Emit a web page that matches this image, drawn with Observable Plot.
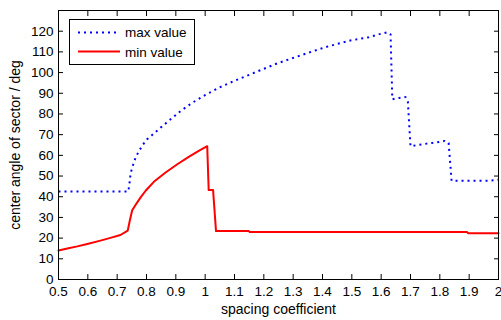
<!DOCTYPE html>
<html>
<head>
<meta charset="utf-8">
<script src="https://cdn.jsdelivr.net/npm/d3@7"></script>
<script src="https://cdn.jsdelivr.net/npm/@observablehq/plot@0.6"></script>
<style>
  body { margin: 0; background: #fff; }
  #wrap { position: relative; width: 501px; height: 320px; }
  #legend { position: absolute; left: 0; top: 0; pointer-events: none; }
</style>
</head>
<body>
<div id="wrap"></div>
<script>
// spacing coefficient (x) and center angle (deg)
const maxX = [0.5, 0.738, 0.742, 0.745, 0.749, 0.755, 0.763, 0.774, 0.787, 0.802, 0.819, 0.848, 0.882, 0.916, 0.956, 1.001, 1.047, 1.098, 1.160, 1.245, 1.325, 1.410, 1.495, 1.558, 1.598, 1.621, 1.632, 1.638, 1.661, 1.683, 1.691, 1.700, 1.720, 1.743, 1.774, 1.797, 1.816, 1.830, 1.840, 1.90, 1.96, 2.0];
const maxY = [42.5, 42.5, 46.4, 50.1, 52.9, 55.7, 59.0, 62.0, 65.0, 67.8, 69.8, 73.4, 77.4, 81.4, 85.4, 89.2, 92.7, 95.9, 99.5, 104.4, 108.3, 112.3, 115.5, 117.1, 118.7, 119.5, 118.5, 87.1, 87.7, 88.2, 85.9, 64.4, 64.9, 65.4, 66.0, 66.4, 67.0, 66.0, 47.7, 47.7, 47.7, 48.2];

const minX = [0.5, 0.53, 0.564, 0.598, 0.643, 0.677, 0.711, 0.736, 0.743, 0.751, 0.763, 0.780, 0.797, 0.825, 0.865, 0.905, 0.944, 0.978, 1.007, 1.012, 1.027, 1.037, 1.149, 1.152, 1.893, 1.896, 2.0];
const minY = [14.0, 15.0, 16.0, 17.2, 18.8, 20.1, 21.5, 23.6, 28.4, 33.3, 36.1, 39.7, 42.9, 47.2, 51.7, 55.7, 59.3, 62.2, 64.4, 43.2, 43.2, 23.4, 23.4, 22.9, 22.9, 22.4, 22.4];

const xTicks = [0.5, 0.6, 0.7, 0.8, 0.9, 1, 1.1, 1.2, 1.3, 1.4, 1.5, 1.6, 1.7, 1.8, 1.9, 2];
const yTicks = [0, 10, 20, 30, 40, 50, 60, 70, 80, 90, 100, 110, 120];
const seriesNames = ["max value", "min value"];
const seriesColors = ["#0000ff", "#ff0000"];
const xLabel = "spacing coefficient";
const yLabel = "center angle of sector / deg";

const maxData = maxX.map((x, i) => ({x, y: maxY[i]}));
const minData = minX.map((x, i) => ({x, y: minY[i]}));
const fmt = d => String(+d.toFixed(1));
const FONT = "'Liberation Sans', Arial, sans-serif";

const chart = Plot.plot({
  width: 501,
  height: 320,
  marginLeft: 58,
  marginRight: 3,
  marginTop: 10,
  marginBottom: 41,
  style: {fontFamily: FONT, fontSize: "13px", color: "#000", background: "#fff", overflow: "visible"},
  x: {domain: [0.5, 2]},
  y: {domain: [0, 130]},
  marks: [
    Plot.line(maxData, {x: "x", y: "y", stroke: seriesColors[0], strokeWidth: 2, strokeDasharray: "2 4", strokeLinecap: "butt", strokeLinejoin: "miter"}),
    Plot.line(minData, {x: "x", y: "y", stroke: seriesColors[1], strokeWidth: 2}),
    Plot.frame({stroke: "#000"}),
    Plot.axisX({anchor: "bottom", ticks: xTicks, tickSize: -5, tickPadding: 12, tickFormat: fmt, fontSize: 13.5, label: null}),
    Plot.axisX({anchor: "top", ticks: xTicks, tickSize: -5, tickFormat: () => "", label: null}),
    Plot.axisY({anchor: "left", ticks: yTicks, tickSize: -5, tickPadding: 10, tickFormat: fmt, fontSize: 13.5, label: null}),
    Plot.axisY({anchor: "right", ticks: yTicks, tickSize: -5, tickFormat: () => "", label: null}),
    Plot.text([xLabel], {text: d => d, frameAnchor: "bottom", textAnchor: "middle", lineAnchor: "bottom", dy: 34, fontSize: 14, fill: "#000"}),
    Plot.text([yLabel], {text: d => d, frameAnchor: "left", textAnchor: "middle", lineAnchor: "middle", rotate: -90, dx: -43, fontSize: 14, fill: "#000"})
  ]
});
const wrap = document.getElementById("wrap");
wrap.appendChild(chart);

// legend box
const ns = "http://www.w3.org/2000/svg";
const lg = document.createElementNS(ns, "svg");
lg.setAttribute("id", "legend");
lg.setAttribute("width", 501);
lg.setAttribute("height", 320);
lg.innerHTML = `
  <rect x="69.5" y="19.5" width="125" height="45" fill="#fff" stroke="#000" stroke-width="1"/>
  <line x1="78" x2="120" y1="32.5" y2="32.5" stroke="${seriesColors[0]}" stroke-width="2" stroke-dasharray="2 4"/>
  <line x1="78" x2="120" y1="51.5" y2="51.5" stroke="${seriesColors[1]}" stroke-width="2"/>
  <text x="125" y="37" font-family="${FONT}" font-size="13.5">${seriesNames[0]}</text>
  <text x="125" y="57" font-family="${FONT}" font-size="13.5">${seriesNames[1]}</text>`;
wrap.appendChild(lg);
</script>
</body>
</html>
